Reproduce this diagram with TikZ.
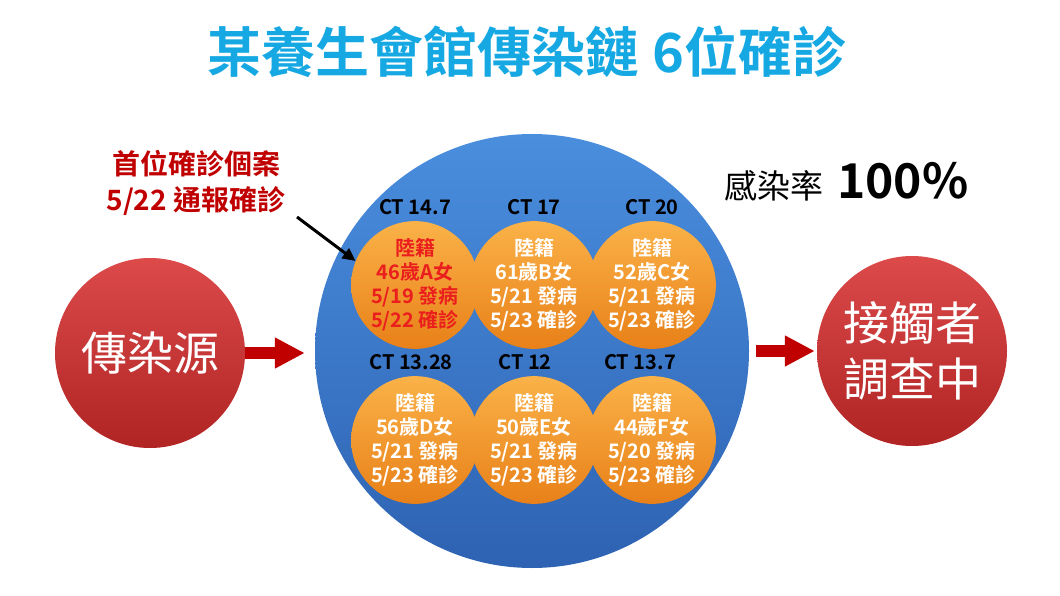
\documentclass[tikz,border=0pt]{standalone}
\usepackage{fontspec}
\setmainfont{Noto Sans CJK TC}[BoldFont={Noto Sans CJK TC Bold}]
\usepackage{xcolor}
\usetikzlibrary{positioning, arrows.meta}

\definecolor{titleBlue}{RGB}{22,168,226}
\definecolor{noteRed}{RGB}{192,0,0}
\definecolor{caseRed}{RGB}{235,30,30}
\definecolor{ringTop}{RGB}{74,142,222}
\definecolor{ringBot}{RGB}{46,98,178}
\definecolor{caseTop}{RGB}{250,178,72}
\definecolor{caseBot}{RGB}{232,128,24}
\definecolor{ballTop}{RGB}{220,74,74}
\definecolor{ballBot}{RGB}{176,36,36}

\begin{document}
\begin{tikzpicture}[x=1pt, y=-1pt,
    ball/.style={
      circle,
      inner sep=0pt,
      minimum size=190pt,
      top color=ballTop, bottom color=ballBot,
      text=white,
      align=center,
      font=\fontsize{46}{56}\selectfont
    },
    case/.style={
      circle,
      inner sep=0pt,
      minimum size=116pt,
      top color=caseTop, bottom color=caseBot,
      text=white,
      align=center,
      font=\bfseries\fontsize{20}{24}\selectfont
    },
    ct/.style={inner sep=0pt, font=\bfseries\fontsize{20}{20}\selectfont},
    block/.style={draw=noteRed, line width=12pt,
      -{Triangle[length=30pt,width=29pt]}},
    >={Triangle[length=13pt,width=12pt]}]
  \useasboundingbox (0,0) rectangle (1060,596);

  \node[text=titleBlue, font=\bfseries\fontsize{54}{54}\selectfont] (title) at (527,52) {某養生會館傳染鏈 6位確診};

  \node[ball] (src) at (150,353) {傳染源};
  \node[ball] (dst) at (912,351) {接觸者\\調查中};
  \node[circle, inner sep=0pt, minimum size=434pt,
    top color=ringTop, bottom color=ringBot] (ring) at (532,351) {};

  % cases
  \node[case, text=caseRed] (A) at (415,285) {陸籍\\46歲A女\\5/19 發病\\5/22 確診};
  \node[case] (B) at (534,285) {陸籍\\61歲B女\\5/21 發病\\5/23 確診};
  \node[case] (C) at (652,285) {陸籍\\52歲C女\\5/21 發病\\5/23 確診};
  \node[case] (D) at (415,440) {陸籍\\56歲D女\\5/21 發病\\5/23 確診};
  \node[case] (E) at (534,440) {陸籍\\50歲E女\\5/21 發病\\5/23 確診};
  \node[case] (F) at (652,440) {陸籍\\44歲F女\\5/20 發病\\5/23 確診};

  \node[ct, above=6pt of A] {CT 14.7};
  \node[ct, above=6pt of B] {CT 17};
  \node[ct, above=6pt of C] {CT 20};
  \node[ct, above=6pt of D, xshift=-4pt] {CT 13.28};
  \node[ct, above=6pt of E, xshift=-9pt] {CT 12};
  \node[ct, above=6pt of F, xshift=-12pt] {CT 13.7};

  \node[text=noteRed, align=center, font=\bfseries\fontsize{28}{36}\selectfont] (note) at (196,183) {首位確診個案\\5/22 通報確診};
  \coordinate (noteEnd) at (297,217);
  \draw[->, line width=3pt] (noteEnd) -- (A.158);

  \node[anchor=base west, inner sep=0pt] (rate) at (724,199)
    {{\fontsize{33}{33}\selectfont 感染率}\hspace{14pt}{\bfseries\fontsize{48}{48}\selectfont 100\%}};

  \draw[block, shorten >=10pt] (src.east) -- (src.east -| ring.west);
  \draw[block, shorten <=7pt, shorten >=2pt] (ring.east) -- (dst.west);
\end{tikzpicture}
\end{document}
